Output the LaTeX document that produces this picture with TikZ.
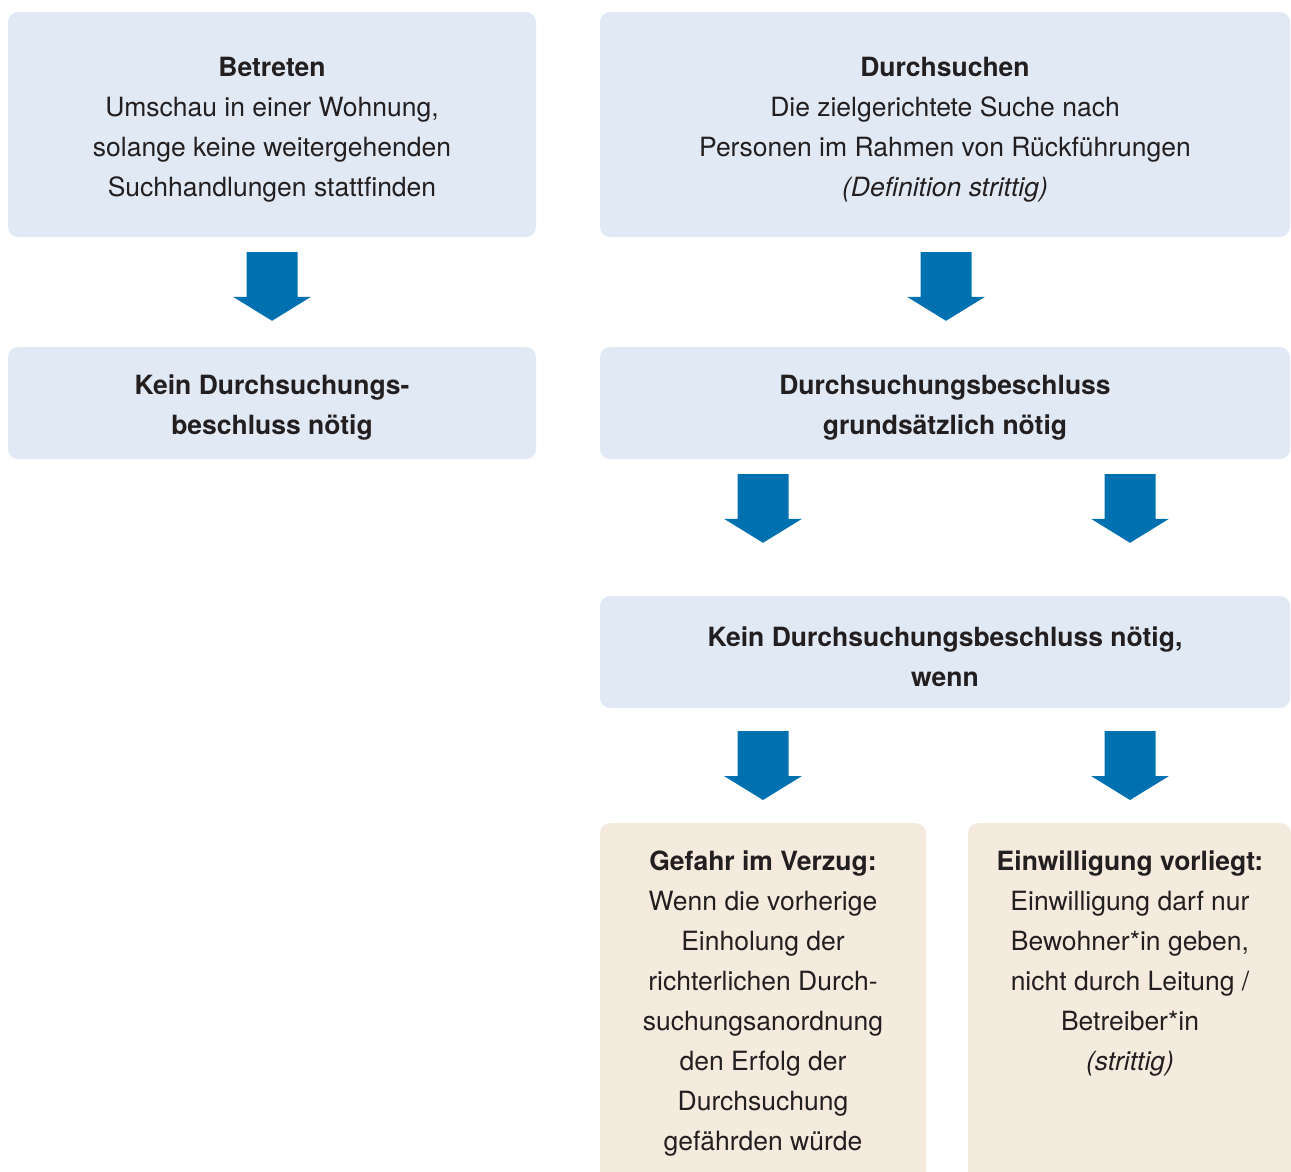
\documentclass[tikz,border=0pt]{standalone}
\usepackage{fontspec}
\setmainfont{TeX Gyre Heros}
\usetikzlibrary{calc}
\definecolor{boxblue}{HTML}{E1E9F4}
\definecolor{boxbeige}{HTML}{F4EADD}
\definecolor{arrowblue}{HTML}{0071B0}
\definecolor{txt}{HTML}{231F20}
\newcommand\blockarrow[2]{%
  \fill[arrowblue] ($(#1)+(-25.5,0)$) -- ($(#1)+(25.5,0)$) -- ($(#2)+(25.5,-24)$) -- ($(#2)+(39,-24)$) -- (#2) -- ($(#2)+(-39,-24)$) -- ($(#2)+(-25.5,-24)$) -- cycle;}
\newcommand\topstrut{\rule{0pt}{29.3pt}}
\begin{document}
\begin{tikzpicture}[x=1pt,y=-1pt,
  box/.style={fill=boxblue, rounded corners=10pt, inner sep=0pt, align=center, text=txt,
    font=\fontsize{26.5}{40}\selectfont},
  bbox/.style={fill=boxbeige, rounded corners=10pt, inner sep=0pt},
  btext/.style={inner sep=0pt, align=center, text=txt, font=\fontsize{26.5}{40}\selectfont, anchor=north}]
\useasboundingbox (0,0) rectangle (1291,1171);
\node[box, minimum width=528pt, minimum height=225pt] (b1) at (272,124.5)
  {\topstrut\textbf{Betreten}\\Umschau in einer Wohnung,\\solange keine weitergehenden\\Suchhandlungen stattfinden};
\node[box, minimum width=690pt, minimum height=225pt] (b2) at (945,124.5)
  {\topstrut\textbf{Durchsuchen}\\Die zielgerichtete Suche nach\\Personen im Rahmen von Rückführungen\\\textit{(Definition strittig)}};
\node[box, minimum width=528pt, minimum height=112pt] (b3) at (272,403)
  {\topstrut\textbf{Kein Durchsuchungs-}\\\textbf{beschluss nötig}};
\node[box, minimum width=690pt, minimum height=112pt] (b4) at (945,403)
  {\topstrut\textbf{Durchsuchungsbeschluss}\\\textbf{grundsätzlich nötig}};
\node[box, minimum width=690pt, minimum height=112pt] (b5) at (945,652)
  {\topstrut\textbf{Kein Durchsuchungsbeschluss nötig,}\\\textbf{wenn}};
\node[bbox, anchor=north, minimum width=326pt, minimum height=370pt] (g1) at (763,823) {};
\node[bbox, anchor=north, minimum width=323pt, minimum height=370pt] (g2) at (1129.5,823) {};
\node[btext] (g1t) at ($(g1.north)+(0,28)$)
  {\textbf{Gefahr im Verzug:}\\Wenn die vorherige\\Einholung der\\richterlichen Durch-\\suchungsanordnung\\den Erfolg der\\Durchsuchung\\gefährden würde};
\node[btext] (g2t) at ($(g2.north)+(0.5,28)$)
  {\textbf{Einwilligung vorliegt:}\\Einwilligung darf nur\\Bewohner*in geben,\\nicht durch Leitung /\\Betreiber*in\\\textit{(strittig)}};
% arrows
\coordinate (a1s) at ($(b1.south)+(0,15)$);
\coordinate (a1e) at ($(b3.north)+(0,-26)$);
\coordinate (a2s) at ($(b2.south)+(1,15)$);
\coordinate (a2e) at ($(b4.north)+(1,-26)$);
\coordinate (a3s) at ($(b4.south -| g1)+(0,15)$);
\coordinate (a3e) at ($(b5.north -| g1)+(0,-53)$);
\coordinate (a4s) at ($(b4.south -| g2t)+(0,15)$);
\coordinate (a4e) at ($(b5.north -| g2t)+(0,-53)$);
\coordinate (a5s) at ($(b5.south -| g1)+(0,23)$);
\coordinate (a5e) at ($(g1.north)+(0,-23)$);
\coordinate (a6s) at ($(b5.south -| g2t)+(0,23)$);
\coordinate (a6e) at ($(g2t.north |- g2.north)+(0,-23)$);
\blockarrow{a1s}{a1e}
\blockarrow{a2s}{a2e}
\blockarrow{a3s}{a3e}
\blockarrow{a4s}{a4e}
\blockarrow{a5s}{a5e}
\blockarrow{a6s}{a6e}
\end{tikzpicture}
\end{document}
